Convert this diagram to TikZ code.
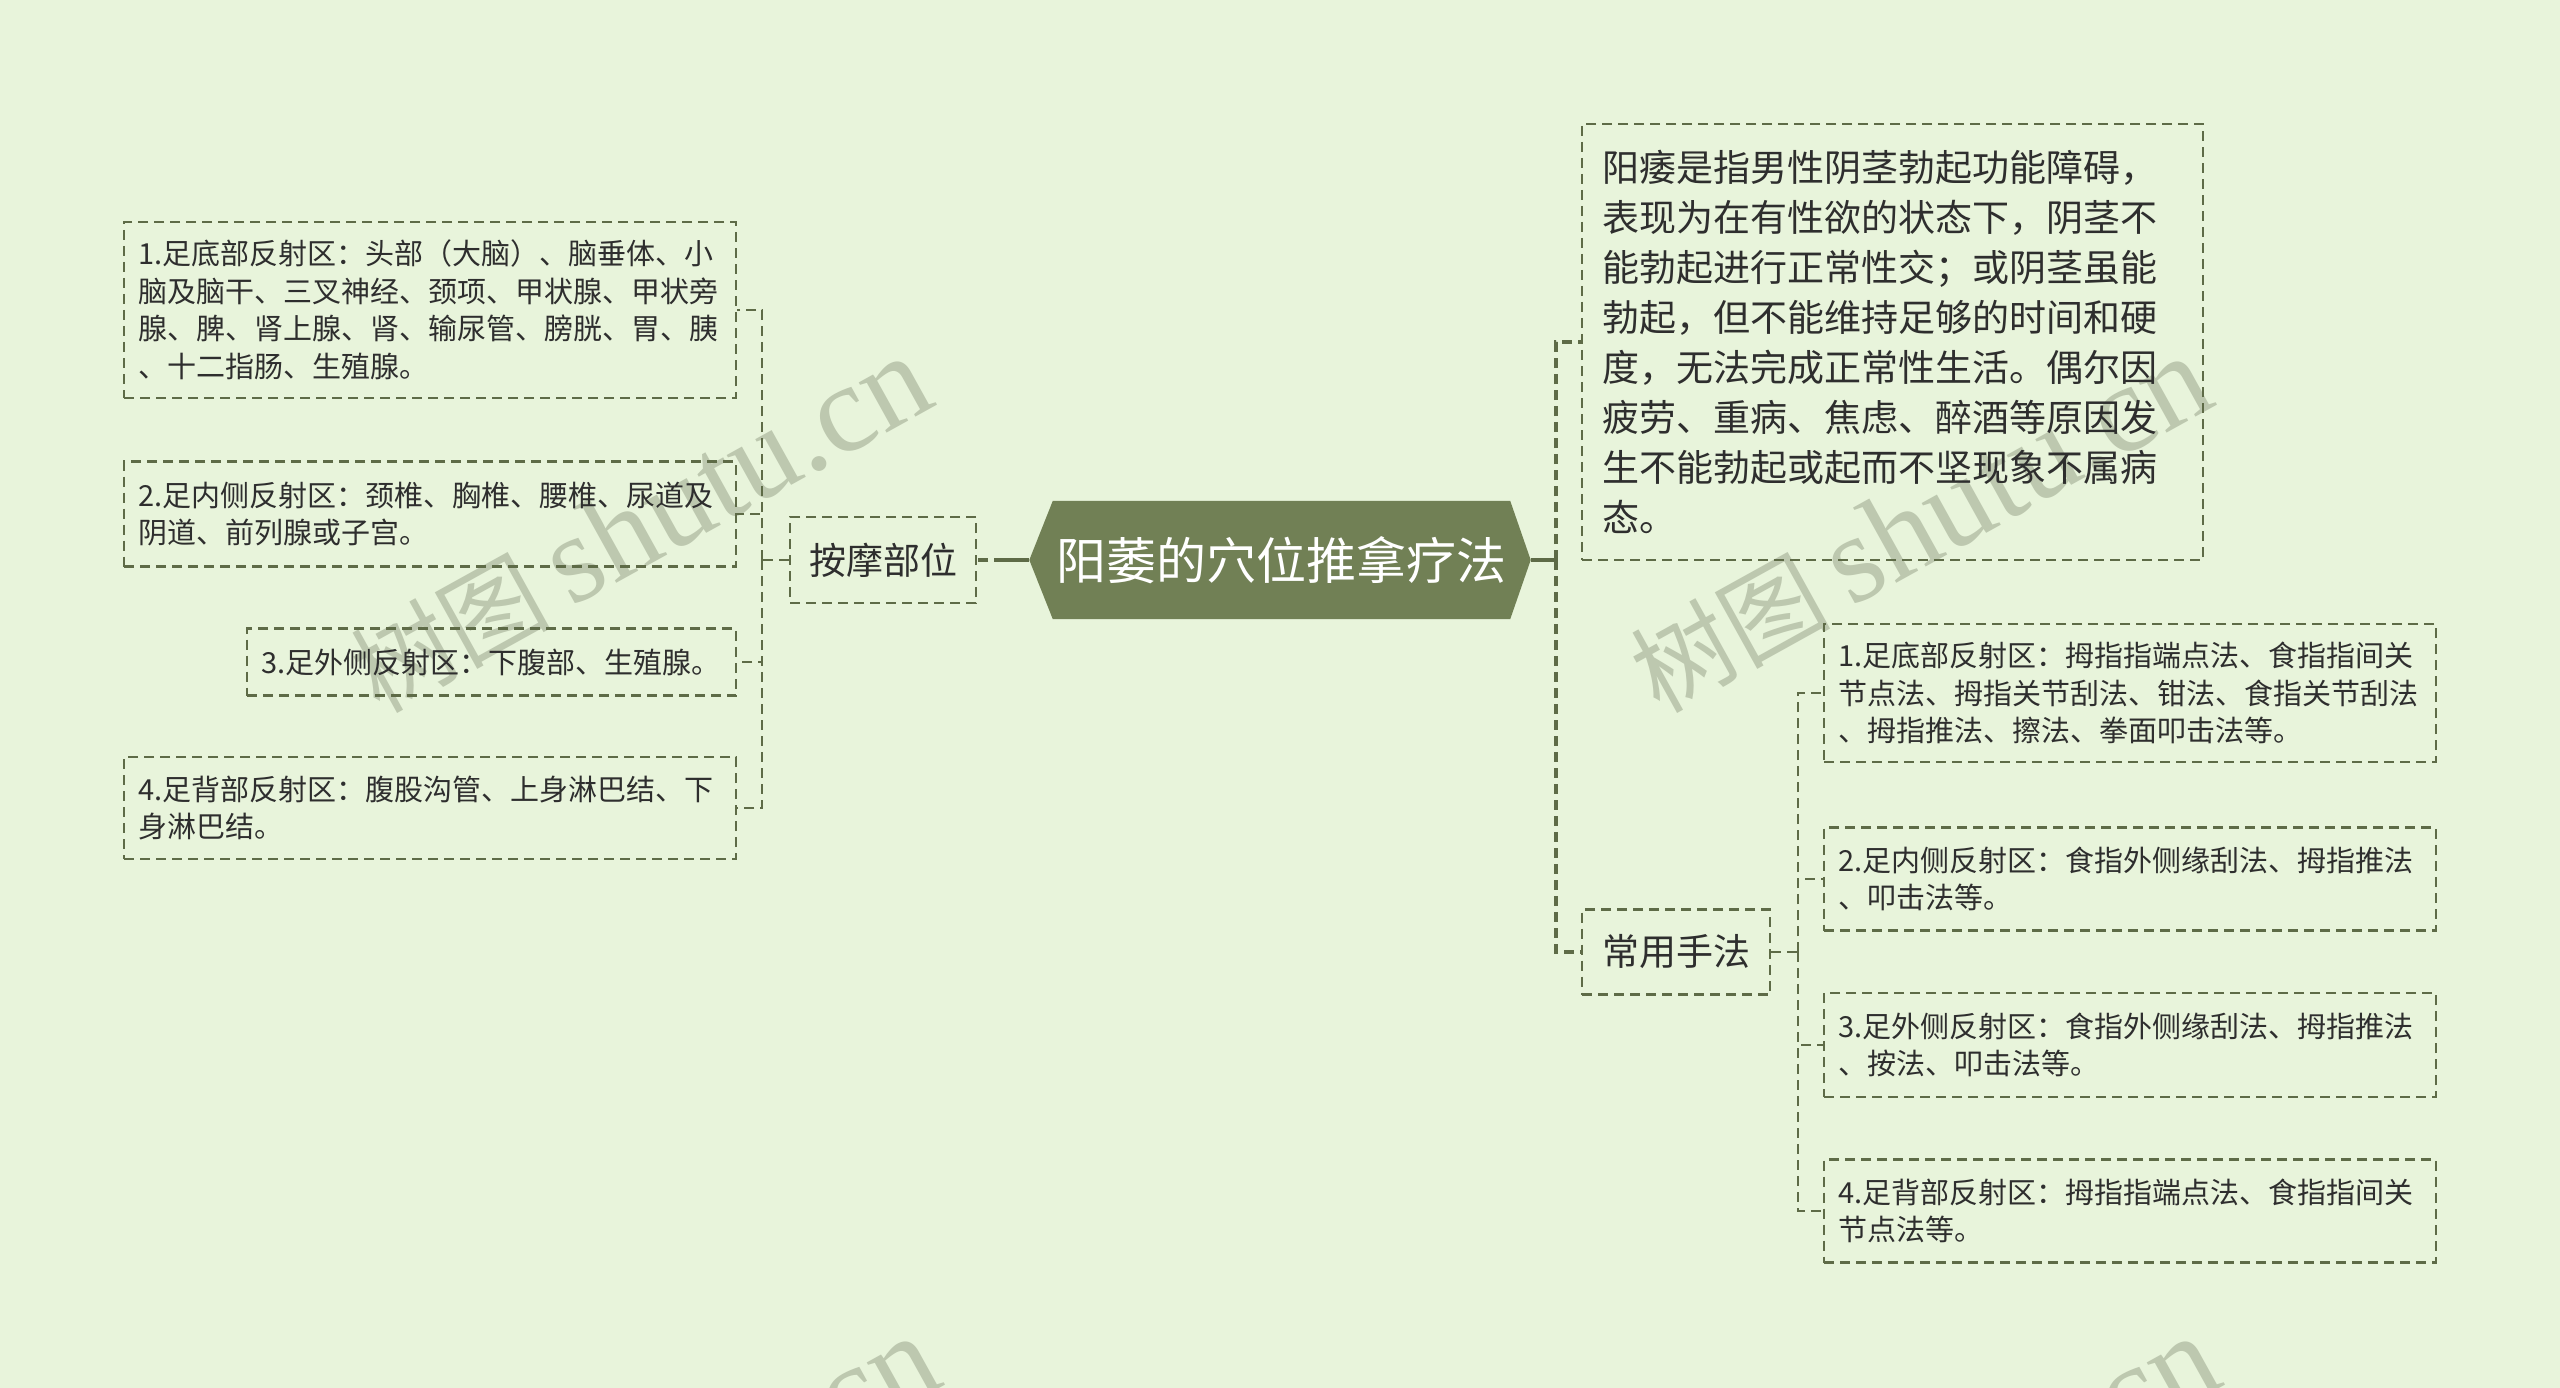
\documentclass[tikz,border=0pt]{standalone}
\usepackage{fontspec}
\setmainfont{Noto Sans CJK SC}
\newfontfamily\wmserif{Liberation Serif}
\definecolor{bgc}{HTML}{E8F4DB}
\definecolor{rootc}{HTML}{718055}
\definecolor{linec}{HTML}{5E6B47}
\definecolor{txtc}{HTML}{2E2E2E}
\definecolor{wmc}{HTML}{BDC8AF}
\pgfdeclarelayer{bglayer}
\pgfsetlayers{bglayer,main}
\begin{document}
\begin{tikzpicture}[x=1pt,y=-1pt,
  box/.style={draw=linec, line width=2.5pt, dash pattern=on 10pt off 6pt, text=txtc, inner ysep=0pt, align=left},
  leaf/.style={box, font=\fontsize{29}{37.5}\selectfont, inner xsep=14pt, text width=584pt},
  midbox/.style={box, font=\fontsize{37}{44}\selectfont, inner sep=0pt, align=center},
  conn/.style={draw=linec, line width=2.5pt, dash pattern=on 10pt off 6pt},
  mainconn/.style={draw=linec, line width=4pt, dash pattern=on 10pt off 6pt},
  solidconn/.style={draw=linec, line width=4pt},
  wm/.style={text=wmc, rotate=29, inner sep=0pt}]
\useasboundingbox (0,0) rectangle (2560,1388);
\begin{pgfonlayer}{bglayer}
  \fill[bgc] (0,0) rectangle (2560,1388);
  \begin{scope}
    \clip (0,0) rectangle (2560,1388);
    \node[wm] (wm1) at (640,525) {{\fontsize{100}{100}\selectfont 树图}\hspace{20pt}{\wmserif\fontsize{125}{125}\selectfont shutu.cn}};
    \node[wm] (wm2) at (1920,525) {{\fontsize{100}{100}\selectfont 树图}\hspace{20pt}{\wmserif\fontsize{125}{125}\selectfont shutu.cn}};
    \node[wm] (wm3) at (648,1505) {{\fontsize{100}{100}\selectfont 树图}\hspace{20pt}{\wmserif\fontsize{125}{125}\selectfont shutu.cn}};
    \node[wm] (wm4) at (1928,1505) {{\fontsize{100}{100}\selectfont 树图}\hspace{20pt}{\wmserif\fontsize{125}{125}\selectfont shutu.cn}};
  \end{scope}
\end{pgfonlayer}

% root
\node[font=\fontsize{50}{50}\selectfont, text=white, minimum width=457pt, minimum height=118pt, inner sep=0pt] (root) at (1281.5,560) {阳萎的穴位推拿疗法};
\coordinate (rootL) at ([xshift=-23.5pt]root.west);
\coordinate (rootR) at ([xshift=20.5pt]root.east);
\begin{pgfonlayer}{bglayer}
  \fill[rootc] (root.north west) -- (root.north east) -- (rootR) -- (root.south east) -- (root.south west) -- (rootL) -- cycle;
\end{pgfonlayer}

% left branch
\node[midbox, minimum width=186pt, minimum height=86pt] (anmo) at (883,560) {按摩部位};
\node[leaf, minimum height=176pt] (l1) at (430,310) {1.足底部反射区：头部（大脑）、脑垂体、小\\脑及脑干、三叉神经、颈项、甲状腺、甲状旁\\腺、脾、肾上腺、肾、输尿管、膀胱、胃、胰\\、十二指肠、生殖腺。};
\node[leaf, minimum height=105pt] (l2) at (430,514) {2.足内侧反射区：颈椎、胸椎、腰椎、尿道及\\阴道、前列腺或子宫。};
\node[leaf, text width=461pt, minimum height=67pt] (l3) at (491.5,662) {3.足外侧反射区：下腹部、生殖腺。};
\node[leaf, minimum height=102pt] (l4) at (430,808) {4.足背部反射区：腹股沟管、上身淋巴结、下\\身淋巴结。};

% right branch
\node[box, font=\fontsize{37}{50}\selectfont, inner xsep=20pt, text width=581pt, minimum height=436pt] (desc) at (1892.5,342) {阳痿是指男性阴茎勃起功能障碍，\\表现为在有性欲的状态下，阴茎不\\能勃起进行正常性交；或阴茎虽能\\勃起，但不能维持足够的时间和硬\\度，无法完成正常性生活。偶尔因\\疲劳、重病、焦虑、醉酒等原因发\\生不能勃起或起而不坚现象不属病\\态。};
\node[midbox, minimum width=188pt, minimum height=85pt] (cy) at (1676,952) {常用手法};
\node[leaf, minimum height=138pt] (r1) at (2130,693) {1.足底部反射区：拇指指端点法、食指指间关\\节点法、拇指关节刮法、钳法、食指关节刮法\\、拇指推法、擦法、拳面叩击法等。};
\node[leaf, minimum height=103pt] (r2) at (2130,879) {2.足内侧反射区：食指外侧缘刮法、拇指推法\\、叩击法等。};
\node[leaf, minimum height=104pt] (r3) at (2130,1045) {3.足外侧反射区：食指外侧缘刮法、拇指推法\\、按法、叩击法等。};
\node[leaf, minimum height=103pt] (r4) at (2130,1211) {4.足背部反射区：拇指指端点法、食指指间关\\节点法等。};

% connectors left
\coordinate (lJ) at (1004,560);
\coordinate (lS) at (762,560);
\draw[solidconn] (rootL) -- (lJ);
\draw[mainconn] (lJ) -- (anmo.east);
\draw[conn] (anmo.west) -- (lS);
\draw[conn] (lS) |- (l1.east);
\draw[conn] (lS) |- (l2.east);
\draw[conn] (lS) |- (l3.east);
\draw[conn] (lS) |- (l4.east);

% connectors right
\coordinate (rJ) at (1556,560);
\coordinate (rS) at (1798,952);
\draw[solidconn] (rootR) -- (rJ);
\draw[mainconn] (rJ) |- (desc.west);
\draw[mainconn] (rJ) |- (cy.west);
\draw[conn] (cy.east) -- (rS);
\draw[conn] (rS) |- (r1.west);
\draw[conn] (rS) |- (r2.west);
\draw[conn] (rS) |- (r3.west);
\draw[conn] (rS) |- (r4.west);
\end{tikzpicture}
\end{document}
